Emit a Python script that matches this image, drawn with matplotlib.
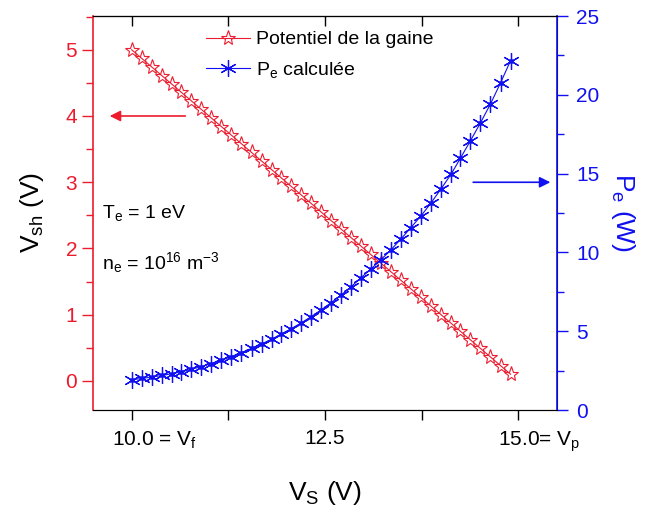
import numpy as np
import matplotlib
matplotlib.use("Agg")
import matplotlib.pyplot as plt
from matplotlib.ticker import MultipleLocator
import matplotlib.transforms as mtransforms

plt.rcParams.update({
    "font.family": ["Liberation Sans", "DejaVu Sans"],
    "mathtext.default": "regular",
    "font.size": 14,
})

RED = "#ec1c2e"
BLUE = "#1010f0"

# surface potential Vs (V)
vs = [10.00, 10.13, 10.26, 10.39, 10.52, 10.64, 10.77, 10.90, 11.03, 11.16,
      11.29, 11.42, 11.55, 11.68, 11.81, 11.93, 12.06, 12.19, 12.32, 12.45,
      12.58, 12.71, 12.84, 12.96, 13.09, 13.22, 13.35, 13.48, 13.61, 13.74,
      13.87, 14.00, 14.13, 14.25, 14.38, 14.51, 14.64, 14.77, 14.90]

# sheath potential Vsh (V)
vsh = [5.00, 4.87, 4.74, 4.61, 4.48, 4.36, 4.23, 4.10, 3.97, 3.84,
       3.71, 3.58, 3.45, 3.32, 3.19, 3.07, 2.94, 2.81, 2.68, 2.55,
       2.42, 2.29, 2.16, 2.04, 1.91, 1.78, 1.65, 1.52, 1.39, 1.26,
       1.13, 1.00, 0.87, 0.75, 0.62, 0.49, 0.36, 0.23, 0.10]

# computed power Pe (W)
pe = [1.92, 2.00, 2.09, 2.19, 2.30, 2.43, 2.58, 2.75, 2.95, 3.16,
      3.39, 3.64, 3.91, 4.19, 4.49, 4.81, 5.15, 5.52, 5.92, 6.35,
      6.81, 7.30, 7.83, 8.37, 8.93, 9.52, 10.15, 10.84, 11.57, 12.31,
      13.13, 14.03, 14.96, 15.97, 17.08, 18.22, 19.42, 20.76, 22.17]

x_ticks = [10.0, 12.5, 15.0]
x_ticklabels = ["10.0 = V$_f$", "12.5", "15.0= V$_p$"]

fig = plt.figure(figsize=(6.46, 5.14), dpi=100)
ax = fig.add_axes([93 / 646, 1 - 410 / 514, 464 / 646, 394 / 514])
ax2 = ax.twinx()

l1, = ax.plot(vs, vsh, color=RED, lw=0.8, marker="*", ms=11, mfc="none",
              mec=RED, mew=0.8, label="Potentiel de la gaine")
l2, = ax2.plot(vs, pe, color=BLUE, lw=0.8, marker=(6, 2, 0), ms=12,
               mec=BLUE, mew=0.9, label="P$_e$ calculée")
ax2.plot(vs, pe, ls="none", marker="o", ms=2.5, color=BLUE)

ax.set_xlim(9.5, 15.5)
ax.set_ylim(-0.44, 5.51)
ax2.set_ylim(0, 25)

# x axis: numbers centred on the ticks, "= V" part trailing to the right
ax.set_xticks(x_ticks)
ax.set_xticklabels(x_ticklabels)
ax.xaxis.set_minor_locator(MultipleLocator(1.25))
ax.tick_params(axis="x", which="both", direction="out", length=7, width=1,
               labelsize=15, pad=7)
for lab, shift in zip(ax.get_xticklabels(), [-20, 0, -20]):
    if shift:
        lab.set_horizontalalignment("left")
        lab.set_transform(lab.get_transform() + mtransforms.ScaledTranslation(
            shift / 100, 0, fig.dpi_scale_trans))
ax.set_xlabel("V$_S$ (V)", fontsize=19, labelpad=18)

top = ax.secondary_xaxis("top")
top.set_xticks([10, 11.25, 12.5, 13.75, 15])
top.tick_params(direction="in", length=7, width=1, labeltop=False)

# left axis
ax.yaxis.set_major_locator(MultipleLocator(1))
ax.yaxis.set_minor_locator(MultipleLocator(0.5))
ax.tick_params(axis="y", which="both", colors=RED, labelsize=15)
ax.tick_params(axis="y", which="major", length=8, width=1)
ax.tick_params(axis="y", which="minor", length=5, width=1)
ax.spines["left"].set_color(RED)
ax.spines["left"].set_linewidth(1.2)
ax.set_ylabel("V$_{sh}$ (V)", fontsize=19, labelpad=14)

# right axis
ax2.yaxis.set_major_locator(MultipleLocator(5))
ax2.yaxis.set_minor_locator(MultipleLocator(2.5))
ax2.tick_params(axis="y", which="both", colors=BLUE, labelsize=15, pad=6)
ax2.tick_params(axis="y", which="major", length=8, width=1)
ax2.tick_params(axis="y", which="minor", length=5, width=1)
ax2.spines["right"].set_color(BLUE)
ax2.spines["right"].set_linewidth(1.2)
ax2.spines["left"].set_visible(False)
ax2.set_ylabel("P$_e$ (W)", fontsize=19, color=BLUE, rotation=-90,
               labelpad=27)

# arrows pointing at the matching axis
ax.annotate("", xy=(9.68, 4.0), xytext=(10.73, 4.0),
            arrowprops=dict(arrowstyle="-|>", color=RED, lw=1.2,
                            mutation_scale=16))
ax2.annotate("", xy=(15.45, 14.45), xytext=(14.38, 14.45),
             arrowprops=dict(arrowstyle="-|>", color=BLUE, lw=1.2,
                             mutation_scale=16))

ax.text(0.02, 0.50, "T$_e$ = 1 eV", transform=ax.transAxes, fontsize=14,
        va="center")
ax.text(0.02, 0.375, "n$_e$ = 10$^{16}$ m$^{-3}$", transform=ax.transAxes,
        fontsize=14, va="center")

fig.legend(handles=[l1, l2], loc="upper left",
           bbox_to_anchor=(196 / 646, 1 - 21 / 514), frameon=False,
           fontsize=14, handlelength=2.3, handletextpad=0.3,
           labelspacing=0.6, borderpad=0)

fig.savefig("out.png", dpi=100)
